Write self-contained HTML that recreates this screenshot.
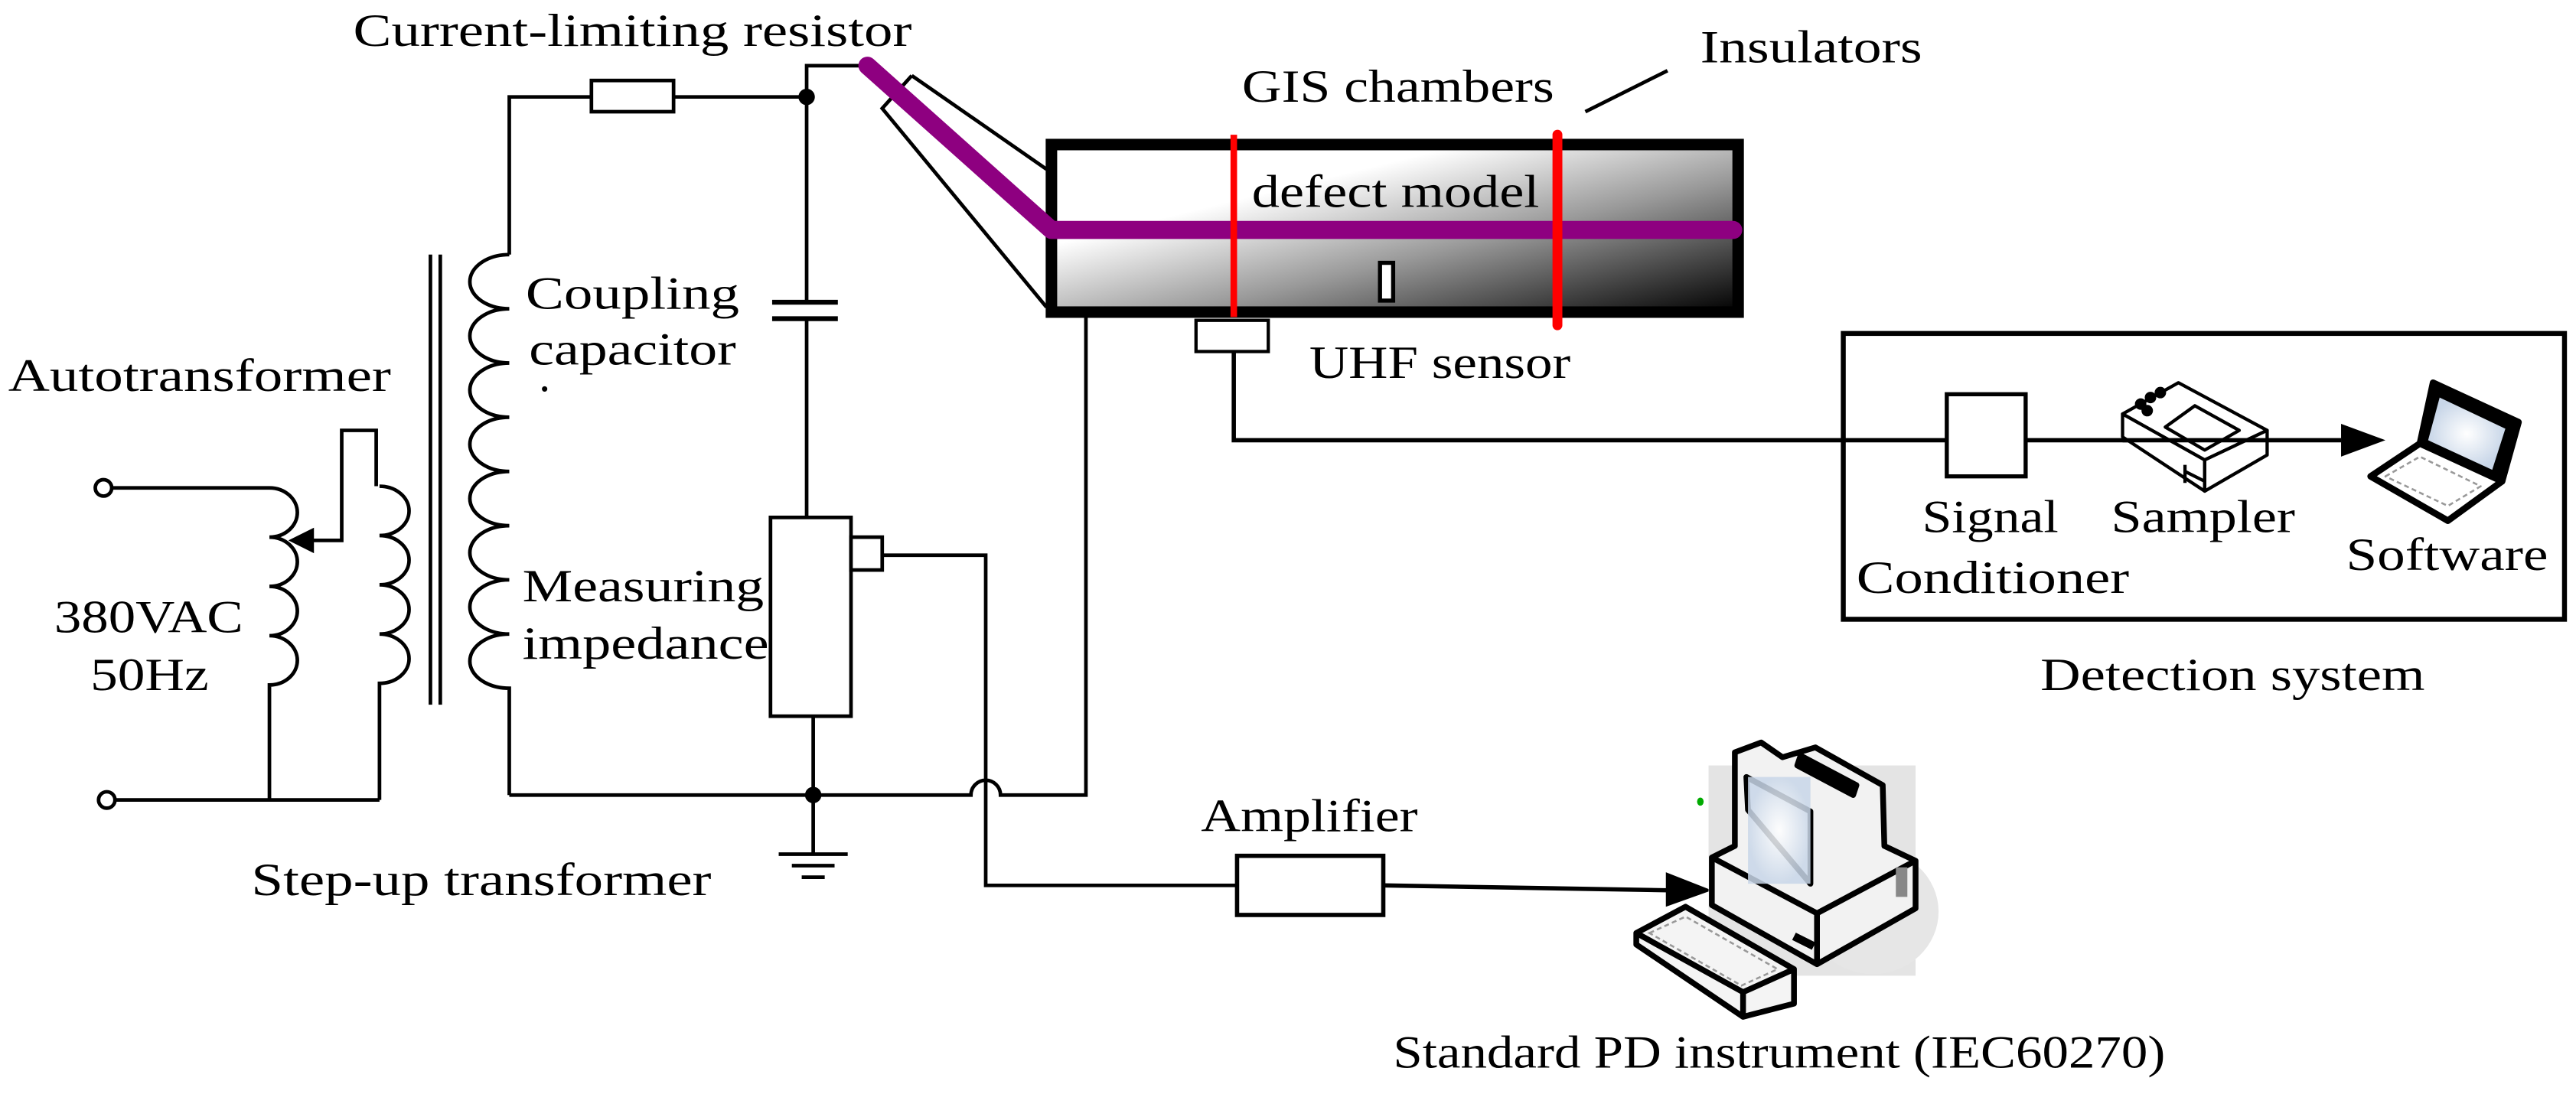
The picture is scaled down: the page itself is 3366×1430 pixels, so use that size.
<!DOCTYPE html>
<html><head><meta charset="utf-8"><style>html,body{margin:0;padding:0;background:#fff}svg{display:block}text{font-family:"Liberation Serif",serif;fill:#000}</style></head><body>
<svg width="3366" height="1430" viewBox="0 0 1568 666" preserveAspectRatio="none" xmlns="http://www.w3.org/2000/svg">
<defs>
<linearGradient id="g" x1="0" y1="0" x2="1" y2="1">
<stop offset="0" stop-color="#fff"/><stop offset="0.3" stop-color="#fff"/><stop offset="0.6" stop-color="#999"/><stop offset="1" stop-color="#000"/>
</linearGradient>
<radialGradient id="scr"><stop offset="0" stop-color="#fff"/><stop offset="1" stop-color="#c8d6e8"/></radialGradient>
</defs>
<g fill="none" stroke="#000" stroke-width="2.2">
<!-- autotransformer -->
<circle cx="63" cy="297" r="5" fill="#fff"/>
<circle cx="65" cy="487" r="5" fill="#fff"/>
<path d="M68,297 H164 a17,15 0 0,1 0,30 a17,15 0 0,1 0,30 a17,15 0 0,1 0,30 a17,15 0 0,1 0,30 V486"/>
<path d="M70,487 H231"/>
<path d="M231,296 a18,15 0 0,1 0,30 a18,15 0 0,1 0,30 a18,15 0 0,1 0,30 a18,15 0 0,1 0,30 V487"/>
<path d="M229,296 V262 H208 V329 H186"/>
<path d="M178,329 L190,323 L190,335 Z" fill="#000"/>
<!-- core -->
<path d="M262,155 V429 M268,155 V429"/>
<!-- step-up coil -->
<path d="M310,155 V59 H360 M410,59 H491 V40 H526"/>
<rect x="360" y="49" width="50" height="19" fill="#fff"/>
<path d="M310,155 a24,16.5 0 0,0 0,33 a24,16.5 0 0,0 0,33 a24,16.5 0 0,0 0,33 a24,16.5 0 0,0 0,33 a24,16.5 0 0,0 0,33 a24,16.5 0 0,0 0,33 a24,16.5 0 0,0 0,33 a24,16.5 0 0,0 0,33 V484"/>
<!-- cap branch -->
<path d="M491,59 V184 M491,194 V315"/>
<path d="M470,184 H510 M470,194 H510" stroke-width="3"/>
<rect x="469" y="315" width="49" height="121" fill="#fff"/>
<rect x="518" y="327" width="19" height="20" fill="#fff"/>
<path d="M495,436 V520"/>
<path d="M474,520 H516 M482,527 H508 M488,534 H502"/>
<path d="M310,484 H591 a9,9 0 0,1 18,0 H661 V193"/>
<path d="M537,338 H600 V539 H753"/>
<rect x="753" y="521" width="89" height="36" fill="#fff" stroke-width="2.6"/>
<path d="M842,539 L1016,542" stroke-width="2.6"/>
<!-- bracket -->
<path d="M555,46 L537,66 L637,187 M555,46 L637,103"/>
</g>
<circle cx="491" cy="59" r="5"/>
<circle cx="495" cy="484" r="5"/>
<path d="M1042,542 L1014,531 L1014,552 Z"/>
<!-- GIS chamber -->
<rect x="640" y="88" width="418" height="102" fill="url(#g)" stroke="#000" stroke-width="7"/>
<path d="M528,40 L640,140 H1055" fill="none" stroke="#8e0080" stroke-width="11" stroke-linecap="round" stroke-linejoin="round"/>
<path d="M751,82 V193" stroke="#f00" stroke-width="4"/>
<path d="M948,82 V198" stroke="#f00" stroke-width="6" stroke-linecap="round"/>
<rect x="840" y="160" width="8" height="23" fill="#fff" stroke="#000" stroke-width="2.5"/>
<path d="M965,68 L1015,43" stroke="#000" stroke-width="2.2"/>
<!-- UHF sensor -->
<rect x="728" y="195" width="44" height="19" fill="#fff" stroke="#000" stroke-width="2"/>
<path d="M751,214 V268 H1185 M1233,268 H1425" fill="none" stroke="#000" stroke-width="2.6"/>
<path d="M1452,268 L1425,258 L1425,278 Z"/>
<!-- detection box -->
<rect x="1122" y="203" width="439" height="174" fill="none" stroke="#000" stroke-width="3"/>
<rect x="1185" y="240" width="48" height="50" fill="#fff" stroke="#000" stroke-width="2.5"/>
<!-- sampler -->
<g fill="#fff" stroke="#000" stroke-width="2" stroke-linejoin="round">
<path d="M1292,252 L1326,233 L1380,262 L1342,280 Z"/>
<path d="M1292,252 V266 L1342,299 V280 Z"/>
<path d="M1342,280 L1380,262 V277 L1342,299 Z"/>
<path d="M1318,260 L1336,247 L1363,262 L1342,274 Z"/>
<path d="M1330,283 V294 M1330,287 L1342,293"/>
<circle cx="1303" cy="246" r="2.5" fill="#000"/><circle cx="1309" cy="242" r="2.5" fill="#000"/><circle cx="1315" cy="239" r="2.5" fill="#000"/><circle cx="1307" cy="250" r="2.5" fill="#000"/>
</g>
<path d="M1292,268 H1380" stroke="#000" stroke-width="2.6"/>
<!-- laptop -->
<g stroke-linejoin="round">
<path d="M1481,233 L1533,257 L1523,293 L1473,270 Z" fill="#000" stroke="#000" stroke-width="4"/>
<path d="M1485,242 L1525,261 L1517,286 L1478,268 Z" fill="url(#scr)"/>
<path d="M1473,270 L1523,293 L1490,317 L1443,290 Z" fill="#fff" stroke="#000" stroke-width="4"/>
<path d="M1452,290 L1473,278 L1510,296 L1490,308 Z" fill="none" stroke="#999" stroke-width="1.2" stroke-dasharray="3,2"/>
</g>
<!-- computer -->
<rect x="1040" y="466" width="126" height="128" fill="#e4e4e4"/>
<ellipse cx="1140" cy="555" rx="40" ry="38" fill="#e6e6e6"/>
<g stroke="#000" stroke-width="3.5" stroke-linejoin="round">
<path d="M1056,458 L1072,452 L1085,461 L1105,455 L1146,478 L1147,515 L1166,524 L1166,553 L1106,587 L1042,551 L1042,522 L1056,515 Z" fill="#f2f2f2"/>
<path d="M1042,522 L1106,556 L1166,524" fill="none"/>
<path d="M1106,556 V587" fill="none"/>
<path d="M1063,473 L1102,494 L1102,538 L1064,493 Z" fill="none"/>
<path d="M1092,570 L1104,576" stroke-width="5"/>
<path d="M1096,460 L1130,478 L1128,484 L1094,466 Z" fill="#000"/>
</g>
<rect x="1064" y="473" width="38" height="65" fill="url(#scr)" opacity="0.85"/>
<rect x="1154" y="528" width="7" height="18" fill="#888"/>
<g stroke="#000" stroke-width="3.5" stroke-linejoin="round">
<path d="M1026,552 L1092,590 L1092,611 L1061,619 L996,575 L996,568 Z" fill="#f4f4f4"/>
<path d="M996,568 L1061,604 L1092,590 M1061,604 V619" fill="none"/>
</g>
<path d="M1004,568 L1026,558 L1082,590 L1060,600 Z" fill="none" stroke="#999" stroke-width="1.2" stroke-dasharray="3,2"/>
<ellipse cx="1035" cy="488" rx="2" ry="2.5" fill="#0a0"/>
<!-- text -->
<g font-size="28">
<text x="215" y="28" textLength="340" lengthAdjust="spacingAndGlyphs">Current-limiting resistor</text>
<text x="5" y="238" textLength="233" lengthAdjust="spacingAndGlyphs">Autotransformer</text>
<text x="320" y="188" textLength="130" lengthAdjust="spacingAndGlyphs">Coupling</text>
<text x="322" y="222" textLength="126" lengthAdjust="spacingAndGlyphs">capacitor</text>
<text x="328" y="238">.</text>
<text x="318" y="366" textLength="147" lengthAdjust="spacingAndGlyphs">Measuring</text>
<text x="318" y="401" textLength="150" lengthAdjust="spacingAndGlyphs">impedance</text>
<text x="33" y="385" textLength="115" lengthAdjust="spacingAndGlyphs">380VAC</text>
<text x="55" y="420" textLength="72" lengthAdjust="spacingAndGlyphs">50Hz</text>
<text x="153" y="545" textLength="280" lengthAdjust="spacingAndGlyphs">Step-up transformer</text>
<text x="756" y="62" textLength="190" lengthAdjust="spacingAndGlyphs">GIS chambers</text>
<text x="1035" y="38" textLength="135" lengthAdjust="spacingAndGlyphs">Insulators</text>
<text x="762" y="126" textLength="175" lengthAdjust="spacingAndGlyphs">defect model</text>
<text x="797" y="230" textLength="159" lengthAdjust="spacingAndGlyphs">UHF sensor</text>
<text x="1170" y="324" textLength="83" lengthAdjust="spacingAndGlyphs">Signal</text>
<text x="1130" y="361" textLength="166" lengthAdjust="spacingAndGlyphs">Conditioner</text>
<text x="1285" y="324" textLength="112" lengthAdjust="spacingAndGlyphs">Sampler</text>
<text x="1428" y="347" textLength="123" lengthAdjust="spacingAndGlyphs">Software</text>
<text x="1242" y="420" textLength="234" lengthAdjust="spacingAndGlyphs">Detection system</text>
<text x="731" y="506" textLength="132" lengthAdjust="spacingAndGlyphs">Amplifier</text>
<text x="848" y="650" textLength="470" lengthAdjust="spacingAndGlyphs">Standard PD instrument (IEC60270)</text>
</g>
</svg>
</body></html>
